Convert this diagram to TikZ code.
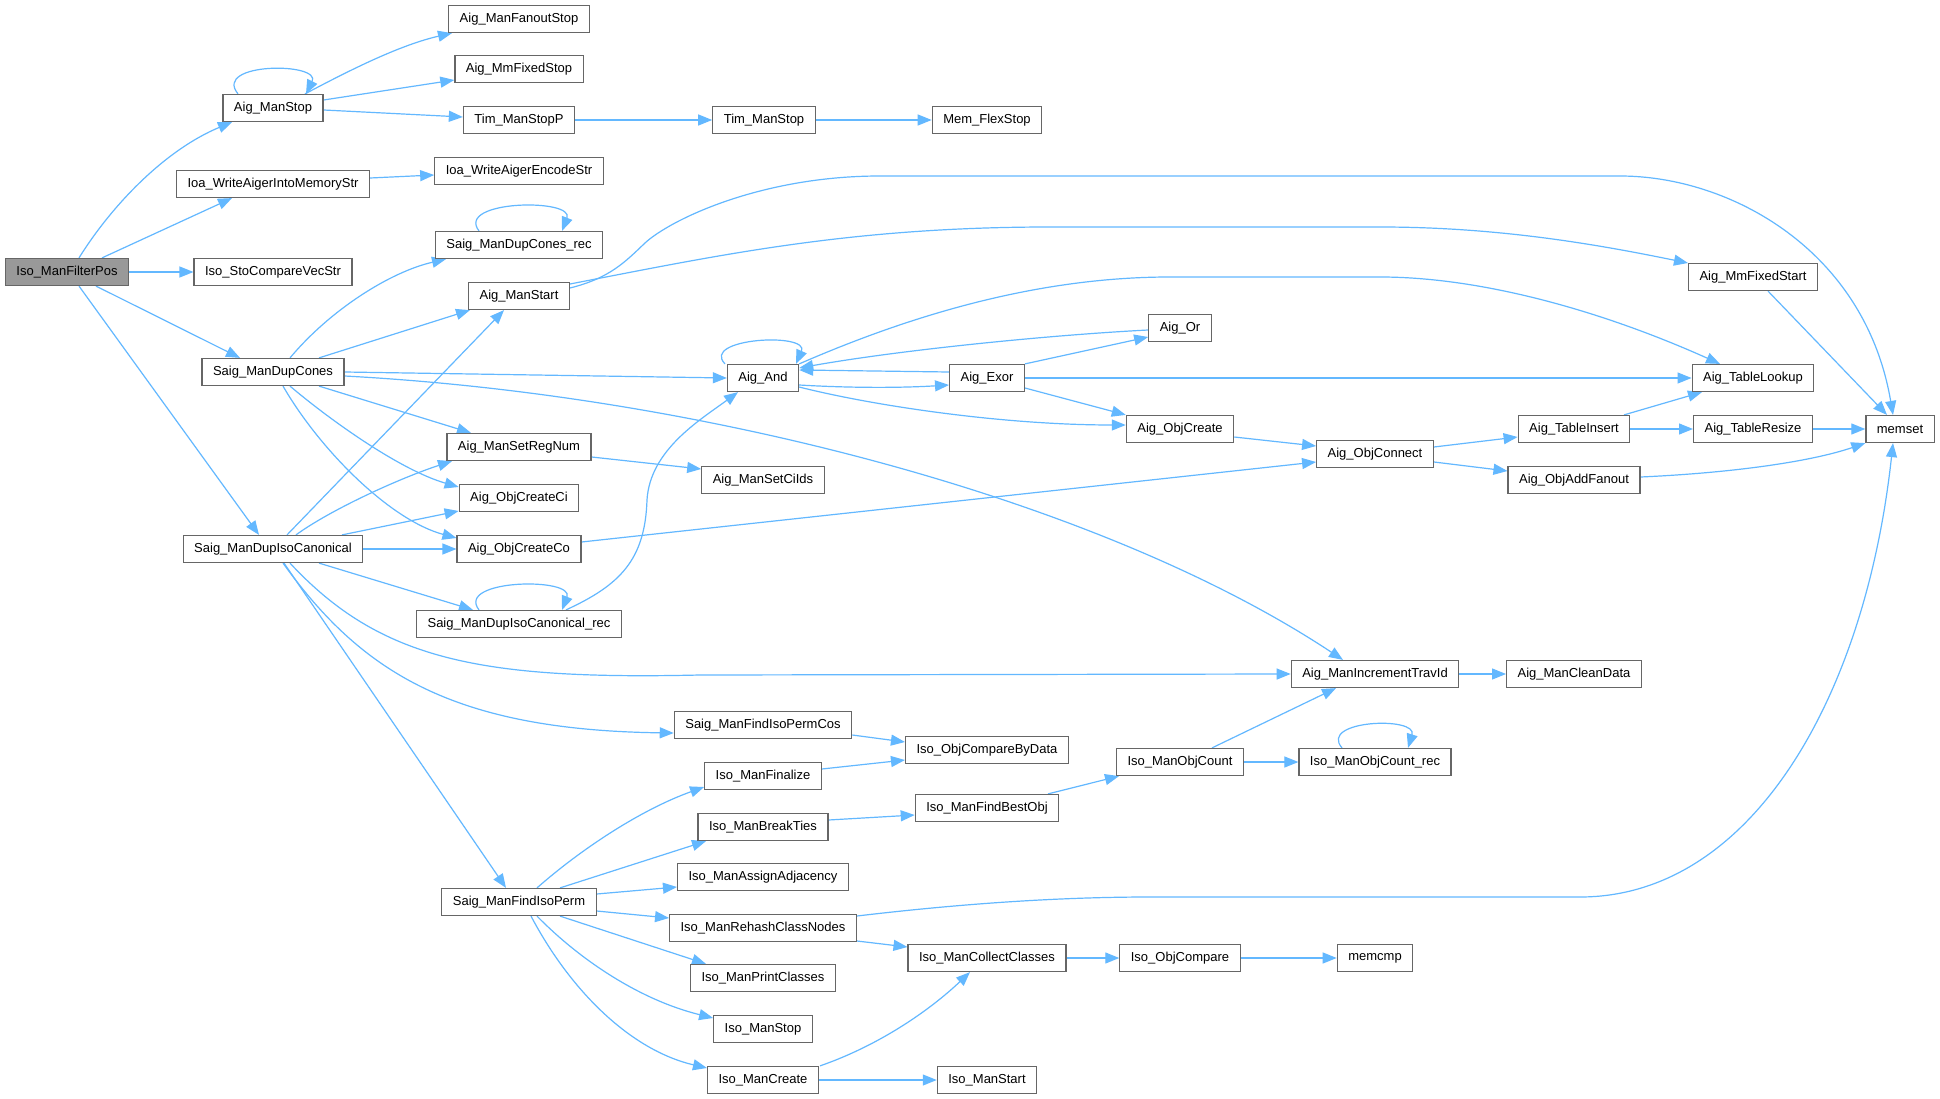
\documentclass[tikz,border=0pt]{standalone}
\usepackage{fontspec}
\setmainfont{Liberation Sans}
\usetikzlibrary{arrows.meta}
\definecolor{edgec}{HTML}{63B8FF}
\definecolor{boxc}{HTML}{666666}
\definecolor{rootc}{HTML}{999999}
\pgfdeclarelayer{bg}
\pgfdeclarelayer{paper}
\pgfsetlayers{paper,bg,main}
\begin{document}
\begin{tikzpicture}[x=1pt,y=-1pt,
 fn/.style={draw=boxc, line width=1.2pt, fill=white, minimum height=27pt, inner xsep=11pt, inner ysep=0pt, font=\fontsize{13}{15}\selectfont, text=black},
 rootfn/.style={fn, fill=rootc},
 e/.style={draw=edgec, line width=1.2pt, -{Triangle[length=14pt,width=11pt]}}]
\begin{pgfonlayer}{paper}
\fill[white] (0,0) rectangle (1940,1099);
\end{pgfonlayer}
\useasboundingbox (0,0) rectangle (1940,1099);

\node[rootfn] (root) at (67,272) {Iso\_ManFilterPos};
\node[fn] (ManStop) at (273,108) {Aig\_ManStop};
\node[fn] (FanoutStop) at (519,19) {Aig\_ManFanoutStop};
\node[fn] (MmFixedStop) at (519,69) {Aig\_MmFixedStop};
\node[fn] (TimStopP) at (519,120) {Tim\_ManStopP};
\node[fn] (TimStop) at (764,120) {Tim\_ManStop};
\node[fn] (MemFlexStop) at (987,120) {Mem\_FlexStop};
\node[fn] (IoaInto) at (273,184) {Ioa\_WriteAigerIntoMemoryStr};
\node[fn] (IoaEnc) at (519,171) {Ioa\_WriteAigerEncodeStr};
\node[fn] (StoCmp) at (273,272) {Iso\_StoCompareVecStr};
\node[fn] (DupConesRec) at (519,245) {Saig\_ManDupCones\_rec};
\node[fn] (ManStart) at (519,296) {Aig\_ManStart};
\node[fn] (DupCones) at (273,372) {Saig\_ManDupCones};
\node[fn] (And) at (763,378) {Aig\_And};
\node[fn] (Or) at (1180,328) {Aig\_Or};
\node[fn] (Exor) at (987,378) {Aig\_Exor};
\node[fn] (MmFixedStart) at (1753,277) {Aig\_MmFixedStart};
\node[fn] (TableLookup) at (1753,378) {Aig\_TableLookup};
\node[fn] (ObjCreate) at (1180,429) {Aig\_ObjCreate};
\node[fn] (ObjConnect) at (1375,454) {Aig\_ObjConnect};
\node[fn] (TableInsert) at (1574,429) {Aig\_TableInsert};
\node[fn] (TableResize) at (1753,429) {Aig\_TableResize};
\node[fn] (memset) at (1900,429) {memset};
\node[fn] (AddFanout) at (1574,480) {Aig\_ObjAddFanout};
\node[fn] (SetRegNum) at (519,447) {Aig\_ManSetRegNum};
\node[fn] (SetCiIds) at (763,480) {Aig\_ManSetCiIds};
\node[fn] (CreateCi) at (519,498) {Aig\_ObjCreateCi};
\node[fn] (DupIso) at (273,549) {Saig\_ManDupIsoCanonical};
\node[fn] (CreateCo) at (519,549) {Aig\_ObjCreateCo};
\node[fn] (DupIsoRec) at (519,624) {Saig\_ManDupIsoCanonical\_rec};
\node[fn] (IncTrav) at (1375,674) {Aig\_ManIncrementTravId};
\node[fn] (CleanData) at (1574,674) {Aig\_ManCleanData};
\node[fn] (FindPermCos) at (763,725) {Saig\_ManFindIsoPermCos};
\node[fn] (CmpByData) at (987,750) {Iso\_ObjCompareByData};
\node[fn] (ObjCount) at (1180,762) {Iso\_ManObjCount};
\node[fn] (ObjCountRec) at (1375,762) {Iso\_ManObjCount\_rec};
\node[fn] (Finalize) at (763,776) {Iso\_ManFinalize};
\node[fn] (FindBest) at (987,808) {Iso\_ManFindBestObj};
\node[fn] (BreakTies) at (763,827) {Iso\_ManBreakTies};
\node[fn] (AssignAdj) at (763,877) {Iso\_ManAssignAdjacency};
\node[fn] (FindIsoPerm) at (519,902) {Saig\_ManFindIsoPerm};
\node[fn] (Rehash) at (763,928) {Iso\_ManRehashClassNodes};
\node[fn] (CollectClasses) at (987,958) {Iso\_ManCollectClasses};
\node[fn] (ObjCompare) at (1180,958) {Iso\_ObjCompare};
\node[fn] (memcmp) at (1375,958) {memcmp};
\node[fn] (PrintClasses) at (763,978) {Iso\_ManPrintClasses};
\node[fn] (IsoStop) at (763,1029) {Iso\_ManStop};
\node[fn] (IsoCreate) at (763,1080) {Iso\_ManCreate};
\node[fn] (IsoStart) at (987,1080) {Iso\_ManStart};

\begin{pgfonlayer}{bg}
% Iso_ManFilterPos
\draw[e] ([xshift=12pt]root.north) .. controls (112,205) and (165,150) .. ([xshift=-41pt]ManStop.south);
\draw[e] ([xshift=35pt]root.north) -- ([xshift=-41pt]IoaInto.south);
\draw[e] (root) -- (StoCmp);
\draw[e] ([xshift=29pt]root.south) -- ([xshift=-33pt]DupCones.north);
\draw[e] ([xshift=12pt]root.south) -- ([xshift=-14pt]DupIso.north);
% Aig_ManStop
\draw[e] ([xshift=-35pt]ManStop.north) .. controls (212,62) and (322,62) .. ([xshift=33pt]ManStop.north);
\draw[e] ([xshift=32pt]ManStop.north) .. controls (350,70) and (400,45) .. ([xshift=-67pt]FanoutStop.south);
\draw[e] ([yshift=8pt]ManStop.east) -- ([yshift=-11pt]MmFixedStop.west);
\draw[e] ([yshift=-2pt]ManStop.east) -- ([yshift=3pt]TimStopP.west);
\draw[e] (TimStopP) -- (TimStop);
\draw[e] (TimStop) -- (MemFlexStop);
\draw[e] ([yshift=6pt]IoaInto.east) -- ([yshift=-4pt]IoaEnc.west);
% Saig_ManDupCones
\draw[e] ([xshift=17pt]DupCones.north) .. controls (330,310) and (390,272) .. ([xshift=-73pt]DupConesRec.south);
\draw[e] ([xshift=-40pt]DupConesRec.north) .. controls (455,200) and (575,198) .. ([xshift=43pt]DupConesRec.north);
\draw[e] ([xshift=46pt]DupCones.north) -- ([xshift=-49pt]ManStart.south);
\draw[e] (DupCones.east) -- (And.west);
\draw[e] ([yshift=-4pt]DupCones.east) .. controls (700,395) and (1100,499) .. ([xshift=-32pt]IncTrav.north);
\draw[e] ([xshift=46pt]DupCones.south) -- ([xshift=-48pt]SetRegNum.north);
\draw[e] ([xshift=17pt]DupCones.south) .. controls (330,420) and (400,470) .. ([yshift=11pt]CreateCi.west);
\draw[e] ([xshift=10pt]DupCones.south) .. controls (320,450) and (390,520) .. ([yshift=11pt]CreateCo.west);
% Aig_ManStart
\draw[e] ([yshift=8pt]ManStart.east) .. controls (610,278) and (625,262) .. (645,243) .. controls (670,220) and (760,176) .. (880,176) -- (1620,176) .. controls (1730,176) and (1865,250) .. ([xshift=-7pt]memset.north);
\draw[e] ([yshift=12pt]ManStart.east) .. controls (720,255) and (850,227) .. (1050,227) -- (1380,227) .. controls (1500,227) and (1600,245) .. ([yshift=14pt]MmFixedStart.west);
\draw[e] ([xshift=15pt]MmFixedStart.south) -- ([xshift=-13pt]memset.north);
% Aig_And group
\draw[e] ([xshift=-38pt]And.north) .. controls (700,338) and (810,332) .. ([xshift=33pt]And.north);
\draw[e] (And.north east) .. controls (900,320) and (1030,277) .. (1170,277) -- (1380,277) .. controls (1480,277) and (1600,310) .. ([xshift=-33pt]TableLookup.north);
\draw[e] ([yshift=-2pt]Or.west) .. controls (1050,335) and (900,350) .. ([yshift=10pt]And.east);
\draw[e] ([yshift=6pt]Exor.west) -- ([yshift=8pt]And.east);
\draw[e] ([yshift=-7pt]And.east) .. controls (850,388) and (900,388) .. ([yshift=-7pt]Exor.west);
\draw[e] ([yshift=-9pt]And.east) .. controls (870,405) and (1000,425) .. ([yshift=4pt]ObjCreate.west);
\draw[e] (Exor.north east) -- ([yshift=-9pt]Or.west);
\draw[e] (Exor) -- (TableLookup);
\draw[e] ([yshift=-10pt]Exor.east) -- (ObjCreate.north west);
\draw[e] ([yshift=-8pt]ObjCreate.east) -- ([yshift=8pt]ObjConnect.west);
\draw[e] ([yshift=7pt]CreateCo.east) -- ([yshift=-8pt]ObjConnect.west);
\draw[e] ([yshift=7pt]ObjConnect.east) -- ([yshift=-8pt]TableInsert.west);
\draw[e] ([yshift=-8pt]ObjConnect.east) -- ([yshift=9pt]AddFanout.west);
\draw[e] ([xshift=50pt]TableInsert.north) -- ([xshift=-51pt]TableLookup.south);
\draw[e] (TableInsert) -- (TableResize);
\draw[e] (TableResize) -- (memset);
\draw[e] ([yshift=3pt]AddFanout.east) .. controls (1730,473) and (1810,462) .. (memset.south west);
\draw[e] ([yshift=-10pt]SetRegNum.east) -- ([yshift=11pt]SetCiIds.west);
% Saig_ManDupIsoCanonical
\draw[e] ([xshift=14pt]DupIso.north) -- ([xshift=-15pt]ManStart.south);
\draw[e] ([xshift=23pt]DupIso.north) .. controls (330,510) and (400,478) .. ([xshift=-67pt]SetRegNum.south);
\draw[e] ([xshift=69pt]DupIso.north) -- ([yshift=-13pt]CreateCi.west);
\draw[e] (DupIso) -- (CreateCo);
\draw[e] ([xshift=46pt]DupIso.south) -- ([xshift=-46pt]DupIsoRec.north);
\draw[e] ([xshift=17pt]DupIso.south) .. controls (380,660) and (480,680) .. (700,675) -- (IncTrav.west);
\draw[e] ([xshift=10pt]DupIso.south) .. controls (360,670) and (450,730) .. ([yshift=-8pt]FindPermCos.west);
\draw[e] ([xshift=11pt]DupIso.south) -- ([xshift=-13pt]FindIsoPerm.north);
\draw[e] ([xshift=-40pt]DupIsoRec.north) .. controls (455,579) and (575,577) .. ([xshift=43pt]DupIsoRec.north);
\draw[e] ([xshift=47pt]DupIsoRec.north) .. controls (620,585) and (645,560) .. (647,500) .. controls (650,450) and (700,420) .. ([xshift=-25pt]And.south);
\draw[e] (IncTrav) -- (CleanData);
% Iso part
\draw[e] ([yshift=-10pt]FindPermCos.east) -- ([yshift=8pt]CmpByData.west);
\draw[e] ([yshift=7pt]Finalize.east) -- ([yshift=-10pt]CmpByData.west);
\draw[e] ([xshift=32pt]ObjCount.north) -- ([xshift=-39pt]IncTrav.south);
\draw[e] (ObjCount) -- (ObjCountRec);
\draw[e] ([xshift=-33pt]ObjCountRec.north) .. controls (1318,720) and (1418,716) .. ([xshift=33pt]ObjCountRec.north);
\draw[e] ([yshift=7pt]BreakTies.east) -- ([yshift=-7pt]FindBest.west);
\draw[e] ([xshift=61pt]FindBest.north) -- ([xshift=-61pt]ObjCount.south);
\draw[e] ([xshift=18pt]FindIsoPerm.north) .. controls (580,850) and (640,810) .. ([yshift=-11pt]Finalize.west);
\draw[e] ([xshift=41pt]FindIsoPerm.north) -- ([xshift=-57pt]BreakTies.south);
\draw[e] ([yshift=8pt]FindIsoPerm.east) -- ([yshift=-10pt]AssignAdj.west);
\draw[e] ([yshift=-9pt]FindIsoPerm.east) -- ([yshift=10pt]Rehash.west);
\draw[e] ([xshift=41pt]FindIsoPerm.south) -- ([xshift=-57pt]PrintClasses.north);
\draw[e] ([xshift=18pt]FindIsoPerm.south) .. controls (580,960) and (640,1000) .. ([yshift=11pt]IsoStop.west);
\draw[e] ([xshift=12pt]FindIsoPerm.south) .. controls (570,990) and (630,1050) .. ([yshift=12pt]IsoCreate.west);
\draw[e] ([yshift=12pt]Rehash.east) .. controls (950,905) and (1050,897) .. (1150,897) -- (1580,897) .. controls (1750,897) and (1865,700) .. ([xshift=-7pt]memset.south);
\draw[e] ([yshift=-13pt]Rehash.east) -- ([yshift=11pt]CollectClasses.west);
\draw[e] (CollectClasses) -- (ObjCompare);
\draw[e] (ObjCompare) -- (memcmp);
\draw[e] ([xshift=57pt]IsoCreate.north) .. controls (880,1045) and (930,1010) .. ([xshift=-17pt]CollectClasses.south);
\draw[e] (IsoCreate) -- (IsoStart);
\end{pgfonlayer}
\end{tikzpicture}
\end{document}
